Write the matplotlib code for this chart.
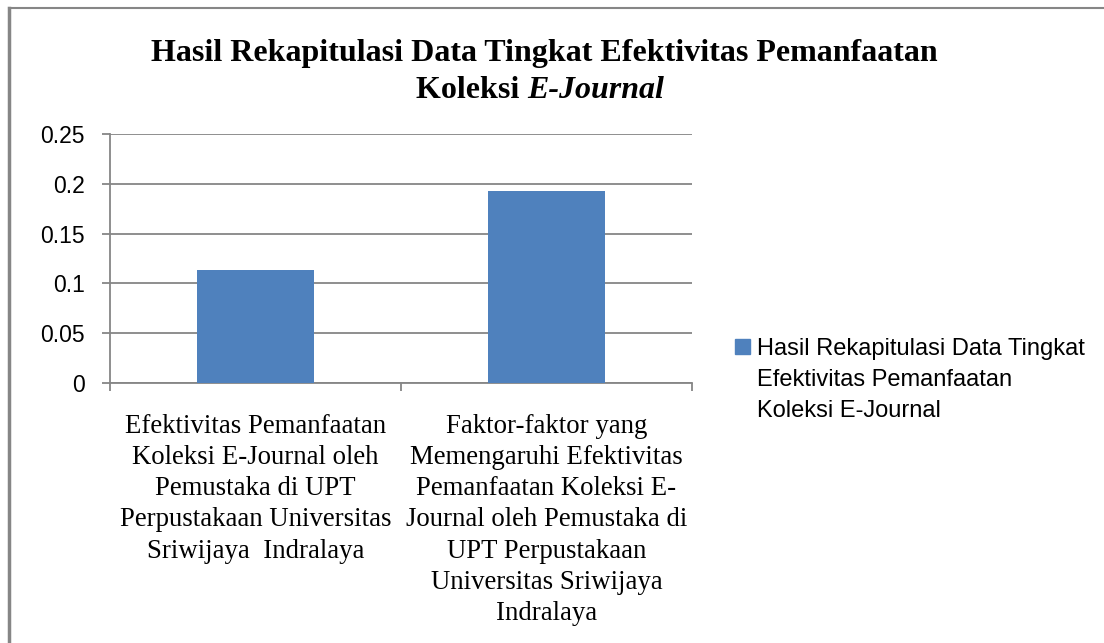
import matplotlib.pyplot as plt
from matplotlib.lines import Line2D
from matplotlib.patches import Rectangle

categories = [
    "Efektivitas Pemanfaatan\nKoleksi E-Journal oleh\nPemustaka di UPT\nPerpustakaan Universitas\nSriwijaya  Indralaya",
    "Faktor-faktor yang\nMemengaruhi Efektivitas\nPemanfaatan Koleksi E-\nJournal oleh Pemustaka di\nUPT Perpustakaan\nUniversitas Sriwijaya\nIndralaya",
]
values = [0.113, 0.193]
yticks = [0, 0.05, 0.1, 0.15, 0.2, 0.25]
ytick_labels = ["0", "0.05", "0.1", "0.15", "0.2", "0.25"]
series_name = "Hasil Rekapitulasi Data Tingkat\nEfektivitas Pemanfaatan\nKoleksi E-Journal"
title_1 = "Hasil Rekapitulasi Data Tingkat Efektivitas Pemanfaatan"
title_2a = "Koleksi "
title_2b = "E-Journal"

grey = "#868686"
blue = "#4F81BD"

fig = plt.figure(figsize=(11.04, 6.43), dpi=100)
ax = fig.add_axes([0.0996, 0.4044, 0.5272, 0.3872])

x = list(range(len(values)))
ax.bar(x, values, width=0.4, color=blue, zorder=3)

ax.set_xlim(-0.5, 1.5)
ax.set_ylim(0, 0.25)
ax.set_yticks(yticks)
ax.set_yticklabels(ytick_labels, family="Liberation Sans", fontsize=16.5)
ax.yaxis.grid(True, color=grey, linewidth=1.3, zorder=0)

ax.set_xticks(x)
ax.set_xticklabels(categories, family="Liberation Serif", fontsize=19.3,
                   linespacing=1.33, ha="center", va="top")
ax.set_xticks([-0.5, 0.5, 1.5], minor=True)
ax.tick_params(axis="x", which="major", length=0, pad=22)
ax.tick_params(axis="x", which="minor", length=6, color=grey, width=1.3)
ax.tick_params(axis="y", length=6, color=grey, width=1.3, pad=12)

for s in ["top", "right"]:
    ax.spines[s].set_visible(False)
for s in ["left", "bottom"]:
    ax.spines[s].set_color(grey)
    ax.spines[s].set_linewidth(1.3)

# title, second line partly italic
fig.text(0.4928, 0.917, title_1, ha="center", va="center",
         family="Liberation Serif", fontsize=23, fontweight="bold")
ta = fig.text(0.4928, 0.859, title_2a, ha="left", va="center",
              family="Liberation Serif", fontsize=23, fontweight="bold")
tb = fig.text(0.4928, 0.859, title_2b, ha="left", va="center",
              family="Liberation Serif", fontsize=23, fontweight="bold",
              style="italic")
fig.canvas.draw()
r = fig.canvas.get_renderer()
wa = ta.get_window_extent(r).width / fig.bbox.width
wb = tb.get_window_extent(r).width / fig.bbox.width
x0 = 0.489 - (wa + wb) / 2
ta.set_x(x0)
tb.set_x(x0 + wa)

# legend drawn by hand so the key sits on the first line
fig.add_artist(Rectangle((0.6658, 1 - 354 / 643), 15 / 1104, 15 / 643,
                         transform=fig.transFigure, color=blue))
fig.text(0.6857, 1 - 417 / 643, series_name, ha="left", va="baseline",
         family="Liberation Sans", fontsize=17, linespacing=1.53)

# chart frame (left and top edges)
fig.add_artist(Line2D([0.0085, 0.0085], [0, 0.988], transform=fig.transFigure,
                      color=grey, linewidth=2.5))
fig.add_artist(Line2D([0.0085, 1.0], [0.988, 0.988], transform=fig.transFigure,
                      color=grey, linewidth=1.5))

fig.savefig("out.png", dpi=100)
